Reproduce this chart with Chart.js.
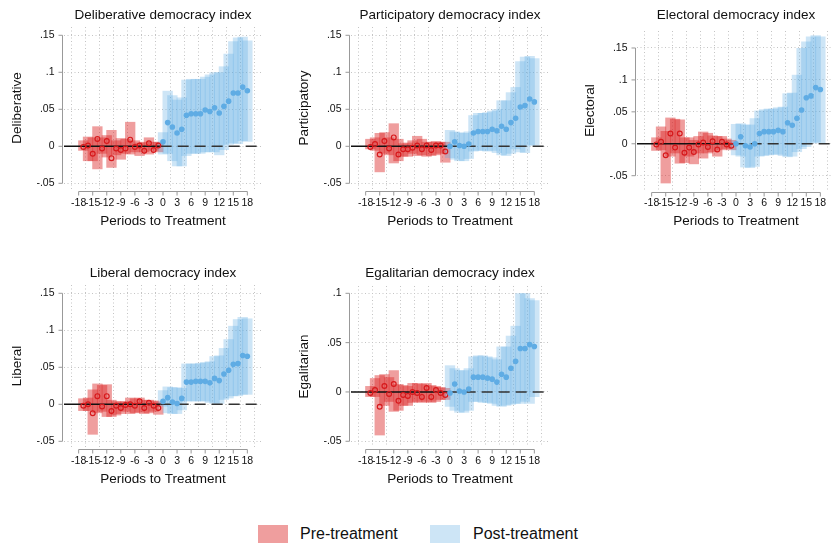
<!DOCTYPE html>
<html>
<head>
<meta charset="utf-8">
<script src="https://cdn.jsdelivr.net/npm/chart.js@4.4.0/dist/chart.umd.min.js"></script>
<style>
  html, body { margin: 0; padding: 0; overflow: hidden; background: #fff; }
  body { width: 833px; height: 547px; position: relative; font-family: 'Liberation Sans', Arial, sans-serif; }
  canvas { position: absolute; }
  .key { position: absolute; width: 30px; height: 18px; }
  .lbl { position: absolute; font-size: 16px; line-height: 18px; color: #111; }
</style>
</head>
<body>
<canvas id="delib" width="280" height="240" style="left:0;top:0"></canvas>
<canvas id="partic" width="280" height="240" style="left:287px;top:0"></canvas>
<canvas id="elect" width="280" height="240" style="left:573px;top:0"></canvas>
<canvas id="lib" width="280" height="240" style="left:0;top:258px"></canvas>
<canvas id="egal" width="280" height="240" style="left:287px;top:258px"></canvas>

<div class="key" style="left:258px;top:525px;background:rgba(220,40,40,0.45)"></div>
<div class="lbl" style="left:300px;top:525px">Pre-treatment</div>
<div class="key" style="left:430px;top:525px;background:rgba(90,170,225,0.3)"></div>
<div class="lbl" style="left:473px;top:525px">Post-treatment</div>

<script>
// periodes
const periodsPre = [-17, -16, -15, -14, -13, -12, -11, -10, -9, -8, -7, -6, -5, -4, -3, -2, -1];
const periodsPost = [0, 1, 2, 3, 4, 5, 6, 7, 8, 9, 10, 11, 12, 13, 14, 15, 16, 17, 18];
const xTicks = [-18, -15, -12, -9, -6, -3, 0, 3, 6, 9, 12, 15, 18];
const yTicksWide = [-0.05, 0, 0.05, 0.1, 0.15];
const yLabelsWide = ['-.05', '0', '.05', '.1', '.15'];
const yTicksEgal = [-0.05, 0, 0.05, 0.1];
const yLabelsEgal = ['-.05', '0', '.05', '.1'];

// Deliberative
const delibPreEst = [-0.001, 0.001, -0.010, 0.010, -0.003, 0.007, -0.016, -0.003, -0.005, -0.003, 0.009, -0.001, 0.001, -0.006, 0.004, -0.005, 0.001];
const delibPreLo = [-0.006, -0.020, -0.020, -0.031, -0.010, -0.015, -0.029, -0.012, -0.018, -0.010, -0.011, -0.008, -0.013, -0.008, -0.011, -0.006, -0.008];
const delibPreHi = [0.008, 0.013, 0.012, 0.027, 0.012, 0.015, 0.022, 0.008, 0.011, 0.010, 0.033, 0.008, 0.005, 0.006, 0.012, 0.006, 0.006];
const delibPostEst = [0.006, 0.032, 0.026, 0.018, 0.023, 0.042, 0.044, 0.044, 0.044, 0.049, 0.047, 0.052, 0.045, 0.054, 0.061, 0.072, 0.072, 0.080, 0.075];
const delibPostLo = [-0.011, -0.010, -0.020, -0.027, -0.027, -0.013, -0.010, -0.010, -0.010, -0.008, -0.008, -0.008, -0.012, -0.005, 0.002, 0.004, 0.003, 0.007, 0.006];
const delibPostHi = [0.019, 0.075, 0.069, 0.063, 0.066, 0.090, 0.091, 0.091, 0.091, 0.094, 0.097, 0.100, 0.100, 0.108, 0.125, 0.142, 0.147, 0.148, 0.143];

// Participatory
const particPreEst = [-0.001, 0.003, -0.011, 0.007, -0.003, 0.012, -0.011, -0.004, -0.004, -0.002, 0.001, -0.004, 0.001, -0.005, 0.001, 0.001, -0.007];
const particPreLo = [-0.004, -0.006, -0.035, -0.010, -0.012, -0.023, -0.020, -0.014, -0.014, -0.010, -0.013, -0.012, -0.014, -0.013, -0.012, -0.010, -0.022];
const particPreHi = [0.010, 0.012, 0.018, 0.019, 0.012, 0.031, 0.010, 0.004, 0.005, 0.008, 0.014, 0.010, 0.006, 0.006, 0.007, 0.006, 0.006];
const particPostEst = [0.000, 0.006, 0.001, 0.000, 0.003, 0.018, 0.020, 0.020, 0.020, 0.023, 0.021, 0.027, 0.023, 0.032, 0.038, 0.053, 0.055, 0.064, 0.060];
const particPostLo = [-0.016, -0.018, -0.020, -0.020, -0.017, -0.007, -0.006, -0.006, -0.007, -0.006, -0.009, -0.012, -0.013, -0.010, -0.004, -0.008, -0.009, 0.001, 0.001];
const particPostHi = [0.022, 0.020, 0.019, 0.018, 0.020, 0.042, 0.045, 0.045, 0.046, 0.048, 0.050, 0.062, 0.062, 0.073, 0.080, 0.115, 0.121, 0.122, 0.119];

// Electoral
const electPreEst = [-0.001, 0.003, -0.018, 0.016, -0.006, 0.016, -0.014, -0.006, -0.013, -0.001, 0.002, -0.005, 0.004, -0.009, 0.003, -0.001, -0.003];
const electPreLo = [-0.011, -0.010, -0.062, -0.020, -0.015, -0.031, -0.030, -0.020, -0.032, -0.015, -0.023, -0.015, -0.013, -0.020, -0.010, -0.008, -0.010];
const electPreHi = [0.010, 0.027, 0.020, 0.041, 0.039, 0.038, 0.010, 0.010, 0.006, 0.012, 0.019, 0.017, 0.013, 0.012, 0.012, 0.008, 0.006];
const electPostEst = [0.000, 0.011, -0.003, -0.005, 0.000, 0.016, 0.019, 0.019, 0.019, 0.021, 0.019, 0.033, 0.029, 0.040, 0.053, 0.072, 0.075, 0.088, 0.085];
const electPostLo = [-0.018, -0.020, -0.037, -0.038, -0.036, -0.020, -0.019, -0.018, -0.017, -0.017, -0.019, -0.021, -0.020, -0.013, -0.008, -0.005, 0.000, 0.002, 0.001];
const electPostHi = [0.031, 0.032, 0.030, 0.030, 0.040, 0.052, 0.054, 0.055, 0.055, 0.057, 0.058, 0.079, 0.080, 0.108, 0.150, 0.160, 0.168, 0.170, 0.168];

// Liberal
const libPreEst = [-0.002, 0.000, -0.012, 0.011, -0.003, 0.011, -0.009, -0.002, -0.005, -0.001, 0.000, -0.002, 0.004, -0.005, 0.002, -0.002, -0.005];
const libPreLo = [-0.009, -0.009, -0.041, -0.012, -0.010, -0.017, -0.017, -0.015, -0.013, -0.010, -0.013, -0.012, -0.011, -0.013, -0.012, -0.010, -0.014];
const libPreHi = [0.008, 0.009, 0.020, 0.028, 0.026, 0.027, 0.006, 0.004, 0.004, 0.004, 0.009, 0.008, 0.009, 0.006, 0.006, 0.005, 0.004];
const libPostEst = [0.004, 0.009, 0.003, 0.001, 0.008, 0.030, 0.030, 0.031, 0.031, 0.031, 0.029, 0.035, 0.032, 0.041, 0.046, 0.054, 0.055, 0.066, 0.065];
const libPostLo = [-0.003, -0.012, -0.013, -0.013, -0.008, 0.004, 0.004, 0.004, 0.004, 0.004, 0.002, 0.000, 0.000, 0.006, 0.008, 0.011, 0.011, 0.013, 0.013];
const libPostHi = [0.019, 0.024, 0.023, 0.023, 0.022, 0.055, 0.055, 0.055, 0.056, 0.057, 0.058, 0.065, 0.066, 0.076, 0.088, 0.106, 0.115, 0.118, 0.116];

// Egalitarian
const egalPreEst = [-0.001, 0.002, -0.015, 0.006, -0.002, 0.008, -0.009, -0.003, -0.004, 0.000, -0.001, -0.005, 0.004, -0.005, 0.002, -0.001, -0.003];
const egalPreLo = [-0.005, -0.005, -0.044, -0.014, -0.010, -0.020, -0.019, -0.014, -0.014, -0.011, -0.010, -0.011, -0.010, -0.011, -0.010, -0.008, -0.008];
const egalPreHi = [0.006, 0.014, 0.017, 0.018, 0.015, 0.022, 0.008, 0.007, 0.006, 0.009, 0.009, 0.008, 0.009, 0.007, 0.006, 0.005, 0.004];
const egalPostEst = [-0.001, 0.008, 0.001, 0.000, 0.003, 0.015, 0.015, 0.015, 0.014, 0.013, 0.010, 0.018, 0.015, 0.024, 0.031, 0.044, 0.044, 0.048, 0.046];
const egalPostLo = [-0.015, -0.019, -0.021, -0.021, -0.019, -0.010, -0.010, -0.011, -0.011, -0.012, -0.014, -0.015, -0.014, -0.013, -0.012, -0.012, -0.010, -0.012, -0.005];
const egalPostHi = [0.027, 0.024, 0.022, 0.022, 0.024, 0.036, 0.037, 0.037, 0.036, 0.035, 0.033, 0.046, 0.046, 0.057, 0.067, 0.100, 0.100, 0.095, 0.093];

const FONT = "'Liberation Sans', Arial, sans-serif";
Chart.defaults.font.family = FONT;
Chart.defaults.color = '#111';

const RED_FILL = 'rgba(220,40,40,0.45)';
const BLUE_FILL = 'rgba(90,170,225,0.3)';

// garis sumbu gaya Stata + garis nol
const stataAxes = {
  id: 'stataAxes',
  afterDatasetDraw(chart, args) {
    if (args.index !== 1) return;
    const {ctx, chartArea} = chart;
    const xs = chart.scales.x, ys = chart.scales.y;
    const y0 = ys.getPixelForValue(0);
    const xm = xs.getPixelForValue(-0.5);
    ctx.save();
    ctx.beginPath();
    ctx.rect(chartArea.left, chartArea.top, chartArea.width, chartArea.height);
    ctx.clip();
    ctx.strokeStyle = '#111';
    ctx.lineWidth = 1.5;
    ctx.beginPath();
    ctx.moveTo(chartArea.left, y0);
    ctx.lineTo(xm, y0);
    ctx.stroke();
    ctx.strokeStyle = '#333';
    ctx.setLineDash([11, 6]);
    ctx.beginPath();
    ctx.moveTo(xm, y0);
    ctx.lineTo(chartArea.right, y0);
    ctx.stroke();
    ctx.restore();
  },
  afterDraw(chart) {
    const {ctx, chartArea} = chart;
    const xs = chart.scales.x, ys = chart.scales.y;
    const yv = ys.ticks.map(t => t.value);
    const xv = xs.ticks.map(t => t.value);
    ctx.save();
    ctx.strokeStyle = '#999';
    ctx.lineWidth = 1;
    const ax = Math.round(chartArea.left - 2) + 0.5;
    ctx.beginPath();
    ctx.moveTo(ax, ys.getPixelForValue(Math.max(...yv)));
    ctx.lineTo(ax, ys.getPixelForValue(Math.min(...yv)));
    yv.forEach(v => {
      const p = ys.getPixelForValue(v);
      ctx.moveTo(ax, p);
      ctx.lineTo(ax - 4, p);
    });
    const ay = Math.round(chartArea.bottom + 2) + 0.5;
    ctx.moveTo(xs.getPixelForValue(Math.min(...xv)), ay);
    ctx.lineTo(xs.getPixelForValue(Math.max(...xv)), ay);
    xv.forEach(v => {
      const p = xs.getPixelForValue(v);
      ctx.moveTo(p, ay);
      ctx.lineTo(p, ay + 4);
    });
    ctx.stroke();
    ctx.restore();
  }
};

function makePanel(id, cfg) {
  const canvasH = 240;
  const titleFont = {size: 13.5, lineHeight: 1.2, weight: 'normal'};
  const preBars = periodsPre.map((p, i) => ({x: p, y: [cfg.preLo[i], cfg.preHi[i]]}));
  const postBars = periodsPost.map((p, i) => ({x: p, y: [cfg.postLo[i], cfg.postHi[i]]}));
  const prePts = periodsPre.map((p, i) => ({x: p, y: cfg.preEst[i]}));
  const postPts = periodsPost.map((p, i) => ({x: p, y: cfg.postEst[i]}));

  return new Chart(document.getElementById(id), {
    type: 'bar',
    data: {
      datasets: [
        {type: 'bar', label: 'Pre-treatment', data: preBars, backgroundColor: RED_FILL,
         borderWidth: 0, grouped: false, categoryPercentage: 1, barPercentage: 2.2, order: 3},
        {type: 'bar', label: 'Post-treatment', data: postBars, backgroundColor: BLUE_FILL,
         borderWidth: 0, grouped: false, categoryPercentage: 1, barPercentage: 2.2, order: 2},
        {type: 'scatter', data: prePts, pointRadius: 2.4, borderWidth: 1.2,
         borderColor: 'rgb(215,25,28)', backgroundColor: 'rgba(0,0,0,0)', order: 1},
        {type: 'scatter', data: postPts, pointRadius: 2.8, borderWidth: 0,
         backgroundColor: 'rgb(95,172,228)', order: 0}
      ]
    },
    options: {
      responsive: false,
      animation: false,
      devicePixelRatio: 1,
      events: [],
      layout: {padding: {left: 0, right: 18, top: 0, bottom: 0}},
      plugins: {
        legend: {display: false},
        tooltip: {enabled: false},
        title: {
          display: true, text: cfg.title, fullSize: false, color: '#111',
          font: titleFont, padding: {top: 7.6, bottom: cfg.top - 7.6 - 16.2}
        }
      },
      scales: {
        x: {
          type: 'linear', min: -19.5, max: 19.5,
          afterBuildTicks: s => { s.ticks = xTicks.map(v => ({value: v})); },
          afterFit: s => { s.height = canvasH - cfg.bottom; },
          ticks: {autoSkip: false, maxRotation: 0, minRotation: 0, padding: 197 - cfg.bottom,
                  font: {size: 10.5}, color: '#111'},
          grid: {color: '#c4c4c4', lineWidth: 1, drawTicks: false},
          border: {display: false, dash: [1, 2.5]},
          title: {display: true, text: 'Periods to Treatment', font: titleFont, color: '#111',
                  padding: {top: 0, bottom: 10.9}}
        },
        y: {
          type: 'linear', min: cfg.yMin, max: cfg.yMax,
          afterBuildTicks: s => { s.ticks = cfg.yTicks.map(v => ({value: v})); },
          afterFit: s => { s.width = 64; },
          ticks: {
            padding: 9.5, font: {size: 10.5}, color: '#111',
            callback: v => {
              const k = cfg.yTicks.findIndex(t => Math.abs(t - v) < 1e-9);
              return k >= 0 ? cfg.yLabels[k] : '';
            }
          },
          grid: {color: '#c4c4c4', lineWidth: 1, drawTicks: false},
          border: {display: false, dash: [1, 2.5]},
          title: {display: true, text: cfg.yTitle, font: titleFont, color: '#111',
                  padding: {top: 9, bottom: 0}}
        }
      }
    },
    plugins: [stataAxes]
  });
}

makePanel('delib', {
  title: 'Deliberative democracy index', yTitle: 'Deliberative',
  preEst: delibPreEst, preLo: delibPreLo, preHi: delibPreHi,
  postEst: delibPostEst, postLo: delibPostLo, postHi: delibPostHi,
  yTicks: yTicksWide, yLabels: yLabelsWide, yMin: -0.0577, yMax: 0.1612, top: 27, bottom: 189
});
makePanel('partic', {
  title: 'Participatory democracy index', yTitle: 'Participatory',
  preEst: particPreEst, preLo: particPreLo, preHi: particPreHi,
  postEst: particPostEst, postLo: particPostLo, postHi: particPostHi,
  yTicks: yTicksWide, yLabels: yLabelsWide, yMin: -0.0577, yMax: 0.1612, top: 27, bottom: 189
});
makePanel('elect', {
  title: 'Electoral democracy index', yTitle: 'Electoral',
  preEst: electPreEst, preLo: electPreLo, preHi: electPreHi,
  postEst: electPostEst, postLo: electPostLo, postHi: electPostHi,
  yTicks: yTicksWide, yLabels: yLabelsWide, yMin: -0.0724, yMax: 0.1766, top: 31, bottom: 190
});
makePanel('lib', {
  title: 'Liberal democracy index', yTitle: 'Liberal',
  preEst: libPreEst, preLo: libPreLo, preHi: libPreHi,
  postEst: libPostEst, postLo: libPostLo, postHi: libPostHi,
  yTicks: yTicksWide, yLabels: yLabelsWide, yMin: -0.0577, yMax: 0.1612, top: 27, bottom: 189
});
makePanel('egal', {
  title: 'Egalitarian democracy index', yTitle: 'Egalitarian',
  preEst: egalPreEst, preLo: egalPreLo, preHi: egalPreHi,
  postEst: egalPostEst, postLo: egalPostLo, postHi: egalPostHi,
  yTicks: yTicksEgal, yLabels: yLabelsEgal, yMin: -0.0558, yMax: 0.1074, top: 28, bottom: 189
});
</script>
</body>
</html>
